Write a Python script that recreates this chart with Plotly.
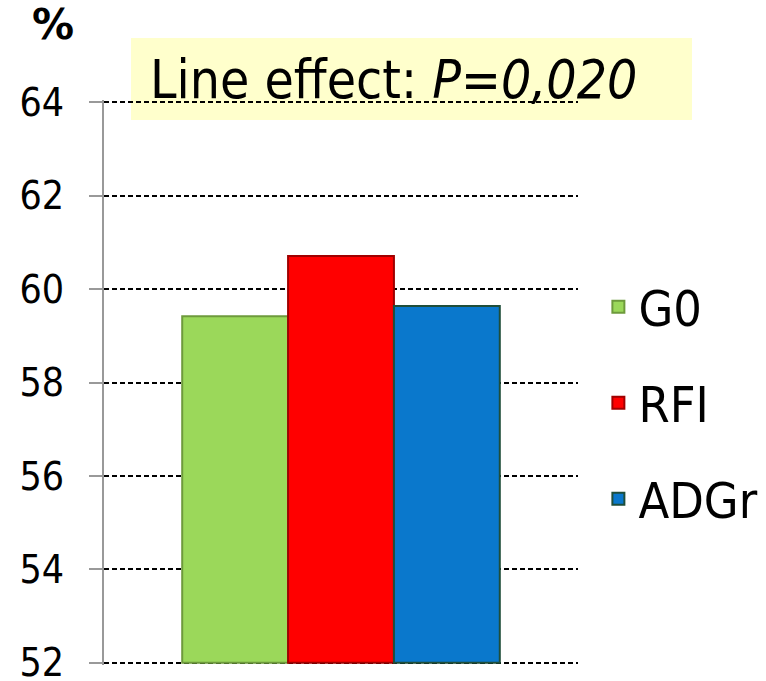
import plotly.graph_objects as go

categories = ["G0", "RFI", "ADGr"]
values = [59.42, 60.71, 59.64]
colors = ["#9BD85A", "#FF0000", "#0A78CC"]
edge_colors = ["#6E9A3C", "#A00000", "#1F4E3A"]
y_ticks = [52, 54, 56, 58, 60, 62, 64]

FONT = "DejaVu Sans Condensed, DejaVu Sans, sans-serif"

fig = go.Figure()
for i, (c, v) in enumerate(zip(categories, values)):
    fig.add_trace(go.Bar(
        x=[""], y=[v - 52], base=52, name=c,
        marker=dict(color=colors[i], line=dict(color=edge_colors[i], width=2)),
        legendgroup=c,
    ))

fig.update_layout(
    width=766, height=681,
    margin=dict(l=104, r=188, t=100, b=16, autoexpand=False),
    plot_bgcolor="white", paper_bgcolor="white",
    barmode="group", bargap=0.33, bargroupgap=0,
    font=dict(family=FONT, size=36, color="black"),
    showlegend=True,
    legend=dict(x=1.043, y=0.703, xanchor="left", yanchor="top",
                font=dict(size=50, family=FONT), tracegroupgap=28,
                itemwidth=30, bgcolor="rgba(0,0,0,0)"),
    xaxis=dict(showticklabels=False, showgrid=False, zeroline=False, showline=False,
               automargin=False),
    yaxis=dict(range=[51.95, 64.05], tickvals=y_ticks, ticktext=[str(t) for t in y_ticks],
               showgrid=True, gridcolor="black", griddash="5px,3px", gridwidth=1.5,
               showline=True, linecolor="#999999", linewidth=2,
               ticks="outside", ticklen=13, tickcolor="#999999", tickwidth=2,
               ticklabelstandoff=17, zeroline=False, automargin=False,
               ticklabeloverflow="allow",
               tickfont=dict(size=39, family=FONT)),
    shapes=[dict(type="rect", xref="paper", yref="paper",
                 x0=(131-104)/474, x1=(692-104)/474,
                 y0=(665-120)/565, y1=(665-38)/565,
                 fillcolor="#FFFFCC", line=dict(width=0), layer="below")],
    annotations=[
        dict(text="Line effect: <i>P=0,020</i>", xref="paper", yref="paper",
             x=(148-104)/474, y=(665-80)/565, xanchor="left", yanchor="middle",
             showarrow=False, font=dict(size=53, family=FONT, color="black")),
        dict(text="<b>%</b>", xref="paper", yref="paper",
             x=(30-104)/474, y=(665-24)/565, xanchor="left", yanchor="middle",
             showarrow=False, font=dict(size=42, family="DejaVu Sans", color="black")),
    ],
)

fig.write_html("out.html", config={"displayModeBar": False})
with open("out.html", encoding="utf-8") as f:
    html = f.read()
html = html.replace("<head>", "<head><style>html,body{margin:0;padding:0;overflow:hidden}</style>", 1)
with open("out.html", "w", encoding="utf-8") as f:
    f.write(html)
